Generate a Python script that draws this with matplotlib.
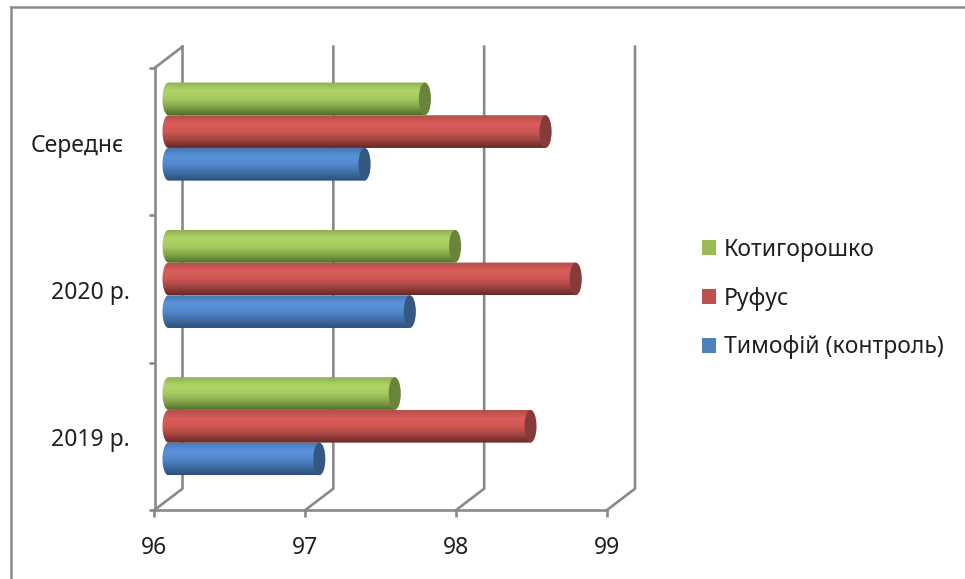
import numpy as np
import matplotlib
matplotlib.use('Agg')
import matplotlib.pyplot as plt
from matplotlib.colors import LinearSegmentedColormap
from matplotlib.lines import Line2D
from matplotlib.patches import Ellipse, Patch, Polygon

# Data
categories = ['2019 р.', '2020 р.', 'Середнє']
series_names = ['Тимофій (контроль)', 'Руфус', 'Котигорошко']
timofiy = [97.0, 97.6, 97.3]
rufus = [98.4, 98.7, 98.5]
kotygoroshko = [97.5, 97.9, 97.7]
x_ticks = [96, 97, 98, 99]

# Colours: legend, cap, then shading of the cylinder from top to bottom
legend_colors = ['#4f81bd', '#c0504d', '#9bbb59']
cap_colors = ['#34587f', '#843c3a', '#6b843c']
shades = [
    ['#4678b4', '#5a92da', '#5288cc', '#3f6ea6', '#2c4f78'],
    ['#b24f4c', '#da5d5a', '#cf5754', '#a34542', '#652826'],
    ['#90b052', '#b0d566', '#a6ca60', '#84a44a', '#50702c'],
]
grid_color = '#898989'

W, H = 965, 579
fig = plt.figure(figsize=(W / 100, H / 100), dpi=100, facecolor='white')

# Outer frame runs off the right and bottom edges
fig.add_artist(Line2D([11 / W, 11 / W], [0, 1 - 7 / H], color='#8c8c8c', lw=1.8))
fig.add_artist(Line2D([11 / W, 1], [1 - 7 / H, 1 - 7 / H], color='#8c8c8c', lw=1.8))

ax = fig.add_axes([154.5 / W, 1 - 510 / H, 452.5 / W, 442 / H])
ax.patch.set_alpha(0)

# Depth of the fake 3D box, in axis units
dx = 28 / 150.8
dy = 0.145

for v in x_ticks:
    ax.plot([v, v + dx, v + dx], [0, dy, 3 + dy], color=grid_color, lw=1.9,
            clip_on=False, zorder=1, solid_joinstyle='miter')
ax.plot([x_ticks[0], x_ticks[0] + dx], [3, 3 + dy], color=grid_color, lw=1.9,
        clip_on=False, zorder=1)

bar_h = 0.222
cap_w = 0.08
offsets = [-bar_h, 0, bar_h]
theta = np.linspace(np.pi / 2, 3 * np.pi / 2, 40)


def draw_cylinder(value, center, shade, cap_color, z):
    start = x_ticks[0] + dx / 2
    end = value + dx / 2
    yc = center + dy / 2 - 0.004
    cmap = LinearSegmentedColormap.from_list('shade', shade)
    grad = np.linspace(0, 1, 64).reshape(-1, 1)
    im = ax.imshow(grad, cmap=cmap, aspect='auto', origin='upper',
                   extent=[start - cap_w / 2, end, yc - bar_h / 2, yc + bar_h / 2],
                   interpolation='bilinear', zorder=z)
    # Rounded back end of the cylinder
    xs = start + cap_w / 2 * np.cos(theta)
    ys = yc + bar_h / 2 * np.sin(theta)
    outline = list(zip(xs, ys)) + [(end, yc - bar_h / 2), (end, yc + bar_h / 2)]
    body = Polygon(outline, closed=True, transform=ax.transData, fc='none', ec='none')
    ax.add_patch(body)
    im.set_clip_path(body)
    ax.add_patch(Ellipse((end, yc), cap_w, bar_h, fc=cap_color, ec='none',
                         zorder=z + 0.5, clip_on=False))


all_series = [timofiy, rufus, kotygoroshko]
for s, values in enumerate(all_series):
    for i, value in enumerate(values):
        draw_cylinder(value, i + 0.5 + offsets[s], shades[s], cap_colors[s], 3 + s)

ax.set_xlim(96, 99)
ax.set_ylim(0, 3)

for name in ['top', 'right']:
    ax.spines[name].set_visible(False)
for name in ['left', 'bottom']:
    ax.spines[name].set_color(grid_color)
    ax.spines[name].set_linewidth(1.9)

label_size = 16.5
text_color = '#1f1f1f'
font = ['Noto Sans', 'DejaVu Sans']
ax.set_xticks(x_ticks)
ax.set_xticklabels([str(v) for v in x_ticks], fontsize=label_size, color=text_color, family=font)
ax.set_yticks([0, 1, 2, 3])
ax.set_yticklabels([])
ax.tick_params(axis='x', length=5, width=1.9, color=grid_color, pad=14)
ax.tick_params(axis='y', length=4.5, width=1.9, color=grid_color)

# Category names sit at slightly different distances from the axis
pads = [24.5, 24.5, 30.5]
for i, label in enumerate(categories):
    ax.annotate(label, (96, i + 0.5), xytext=(-pads[i], -4), textcoords='offset pixels',
                ha='right', va='center', fontsize=label_size, color=text_color,
                family=font, annotation_clip=False)

handles = [Patch(fc=legend_colors[s], ec='none', label=series_names[s]) for s in [2, 1, 0]]
fig.legend(handles=handles, loc='center left', bbox_to_anchor=(681 / W, 1 - 298.5 / H),
           frameon=False, prop={'family': font, 'size': label_size},
           handlelength=0.62, handleheight=0.62, handletextpad=0.35,
           labelspacing=1.09, labelcolor=text_color)

fig.savefig('out.png', dpi=100)
